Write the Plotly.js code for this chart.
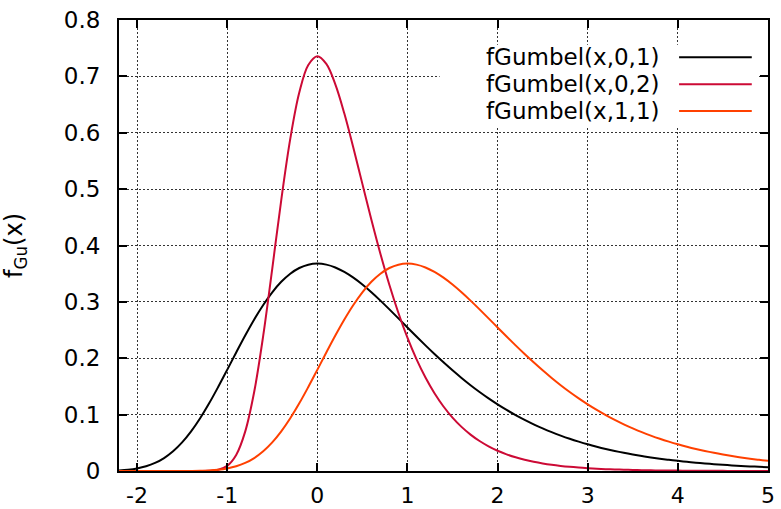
<!DOCTYPE html>
<html>
<head>
<meta charset="utf-8">
<script src="https://cdn.plot.ly/plotly-3.0.1.min.js"></script>
<style>
  html, body { margin: 0; padding: 0; background: #fff; }
  #chart { width: 781px; height: 509px; }
</style>
</head>
<body>
<div id="chart"></div>
<script>
// Gumbel densities sampled every 0.1 on [-2.2, 5]
const xs = [
  -2.2,-2.1,-2.0,-1.9,-1.8,-1.7,-1.6,-1.5,-1.4,-1.3,-1.2,-1.1,-1.0,-0.9,-0.8,-0.7,-0.6,-0.5,-0.4,-0.3,-0.2,-0.1,
  0.0,0.1,0.2,0.3,0.4,0.5,0.6,0.7,0.8,0.9,1.0,1.1,1.2,1.3,1.4,1.5,1.6,1.7,1.8,1.9,2.0,2.1,2.2,2.3,2.4,2.5,2.6,2.7,2.8,2.9,
  3.0,3.1,3.2,3.3,3.4,3.5,3.6,3.7,3.8,3.9,4.0,4.1,4.2,4.3,4.4,4.5,4.6,4.7,4.8,4.9,5.0
];

// fGumbel(x,0,1)
const gumbel01 = [
  0.00109,0.00232,0.00457,0.00834,0.01426,0.02296,0.03495,0.05069,0.07030,0.09355,0.12002,0.14896,0.17937,0.21022,0.24031,0.26877,0.29458,0.31704,0.33560,0.34999,0.36010,0.36598,
  0.36788,0.36611,0.36105,0.35316,0.34290,0.33071,0.31701,0.30222,0.28669,0.27075,0.25465,0.23863,0.22287,0.20752,0.19271,0.17851,0.16499,0.15218,0.14011,0.12879,0.11820,0.10834,0.09918,0.09070,0.08285,0.07562,0.06896,0.06284,0.05722,0.05208,
  0.04737,0.04306,0.03913,0.03555,0.03228,0.02930,0.02659,0.02412,0.02188,0.01984,0.01798,0.01630,0.01477,0.01339,0.01213,0.01099,0.00995,0.00901,0.00816,0.00739,0.00669
];

// fGumbel(x,0,2)
const gumbel02 = [
  0,0,0,0,0,0,0,0,0.000002,0.00004,0.00036,0.00217,0.00914,0.02852,0.06990,0.14060,0.24004,0.35874,0.48062,0.58916,0.67120,0.72020,
  0.73576,0.72210,0.68580,0.63402,0.57338,0.50930,0.44574,0.38542,0.32998,0.28022,0.23640,0.19836,0.16570,0.13792,0.11444,0.09474,0.07826,0.06456,0.05318,0.04376,0.03596,0.02954,0.02426,0.01990,0.01632,0.01338,0.01097,0.00899,0.00737,0.00604,
  0.00495,0.00405,0.00332,0.00272,0.00223,0.00182,0.00149,0.00122,0.00100,0.00082,0.00067,0.00055,0.00045,0.00037,0.00030,0.00025,0.00020,0.00017,0.00014,0.00011,0.00009
];

// fGumbel(x,1,1)
const gumbel11 = [
  0,0,0,0,0.000001,0.000005,0.000019,0.000062,0.00018,0.00046,0.00109,0.00232,0.00457,0.00834,0.01426,0.02296,0.03495,0.05069,0.07030,0.09355,0.12002,0.14896,
  0.17937,0.21022,0.24031,0.26877,0.29458,0.31704,0.33560,0.34999,0.36010,0.36598,0.36788,0.36611,0.36105,0.35316,0.34290,0.33071,0.31701,0.30222,0.28669,0.27075,0.25465,0.23863,0.22287,0.20752,0.19271,0.17851,0.16499,0.15218,0.14011,0.12879,
  0.11820,0.10834,0.09918,0.09070,0.08285,0.07562,0.06896,0.06284,0.05722,0.05208,0.04737,0.04306,0.03913,0.03555,0.03228,0.02930,0.02659,0.02412,0.02188,0.01984,0.01798
];

const seriesNames = ['fGumbel(x,0,1)', 'fGumbel(x,0,2)', 'fGumbel(x,1,1)'];
const seriesColors = ['#000000', '#cc0a35', '#ff4000'];
const seriesValues = [gumbel01, gumbel02, gumbel11];

const xTickVals = [-2, -1, 0, 1, 2, 3, 4, 5];
const xTickText = ['-2', '-1', '0', '1', '2', '3', '4', '5'];

const FONT = 'DejaVu Sans, Liberation Sans, Arial, sans-serif';
const textFont = { family: FONT, size: 23, color: '#000' };

const traces = seriesValues.map((ys, i) => ({
  type: 'scatter',
  mode: 'lines',
  x: xs,
  y: ys,
  name: seriesNames[i],
  line: { color: seriesColors[i], width: 2, shape: 'spline', smoothing: 1 },
  hoverinfo: 'skip'
}));

// Key box (text to the left of each line sample), on a white patch over the grid
const keyTextX = 0.837;
const keyLineX0 = 0.863, keyLineX1 = 0.975;
const keyRowsY = [0.9173, 0.8574, 0.7982];

const shapes = [{
  type: 'rect', xref: 'paper', yref: 'paper',
  x0: 0.494, x1: 0.985, y0: 0.763, y1: 0.945,
  fillcolor: '#ffffff', line: { width: 0 }, layer: 'above'
}];
const annotations = [];
seriesNames.forEach((name, i) => {
  shapes.push({
    type: 'line', xref: 'paper', yref: 'paper',
    x0: keyLineX0, x1: keyLineX1, y0: keyRowsY[i], y1: keyRowsY[i],
    line: { color: seriesColors[i], width: 2 }, layer: 'above'
  });
  annotations.push({
    xref: 'paper', yref: 'paper', x: keyTextX, y: keyRowsY[i],
    xanchor: 'right', yanchor: 'middle', showarrow: false,
    text: name, font: textFont
  });
});

const axisCommon = {
  showline: true, linecolor: '#000', linewidth: 2, mirror: 'ticks',
  ticks: 'inside', ticklen: 8, tickwidth: 2, tickcolor: '#000',
  showgrid: true, gridcolor: '#333', gridwidth: 1, griddash: '2px,2px',
  zeroline: false,
  tickfont: textFont
};

const layout = {
  width: 781, height: 509,
  margin: { l: 119, r: 13, t: 20, b: 38 },
  paper_bgcolor: '#fff', plot_bgcolor: '#fff',
  showlegend: false,
  xaxis: Object.assign({}, axisCommon, {
    range: [-2.2, 5],
    tickmode: 'array', tickvals: xTickVals, ticktext: xTickText,
    tickfont: { family: FONT, size: 22, color: '#000' },
    ticklabelstandoff: 4
  }),
  yaxis: Object.assign({}, axisCommon, {
    range: [0, 0.8], dtick: 0.1, tick0: 0,
    ticklabelstandoff: 12,
    title: { text: 'f<sub>Gu</sub>(x)', font: { family: FONT, size: 24, color: '#000' }, standoff: 36 }
  }),
  shapes: shapes,
  annotations: annotations
};

Plotly.newPlot('chart', traces, layout, { staticPlot: true, displayModeBar: false });
</script>
</body>
</html>
